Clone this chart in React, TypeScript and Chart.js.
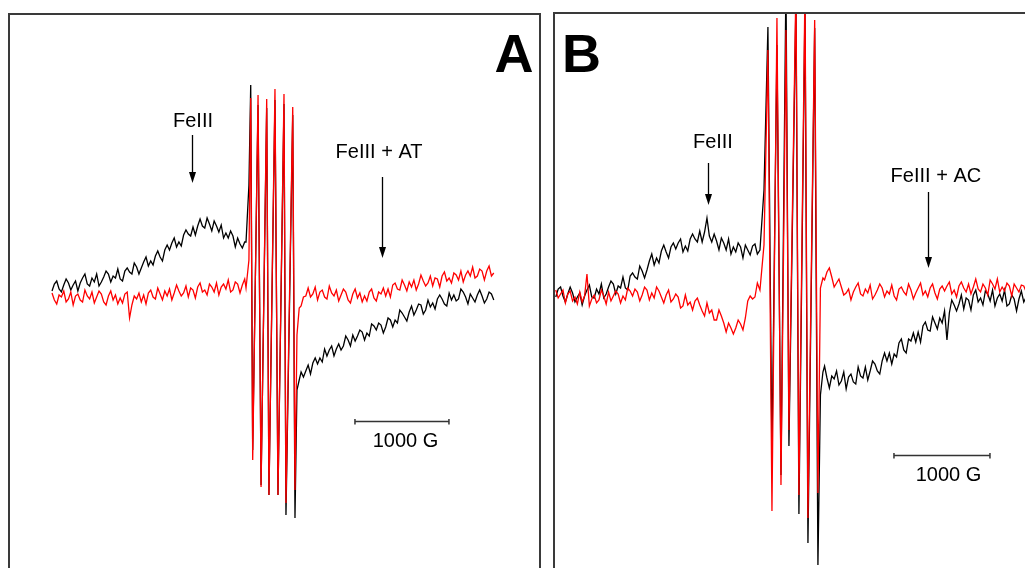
import React, { useEffect, useRef } from "react";
import { Chart, registerables } from "chart.js";

Chart.register(...registerables);

// ---------- DATA (field in gauss, intensity in arbitrary units) ----------
const FIELD_STEP = 25;

// Panel A (FeIII vs FeIII + AT)
const A_LEFT_START = 1000;
const A_RIGHT_START = 3650;
const aBlackLeft = [9, 16, 19, 11, 8, 15, 21, 17, 10, 15, 19, 9, 17, 22, 26, 16, 14, 22, 18, 26, 14, 18, 23, 29, 26, 18, 24, 22, 31, 21, 19, 29, 32, 28, 26, 37, 33, 26, 32, 38, 43, 34, 39, 35, 44, 49, 43, 39, 50, 55, 50, 57, 62, 53, 58, 54, 65, 70, 66, 64, 73, 65, 74, 81, 74, 72, 82, 76, 69, 79, 74, 68, 75, 62, 67, 62, 69, 64, 53, 62, 56, 52, 58];
const aRedLeft = [7, 0, -4, 5, 3, 9, -2, 1, 8, -5, 4, 6, 0, -2, 10, 4, 1, 8, -3, 3, 9, 6, -2, -5, 4, 9, 0, 5, -4, 2, -3, 6, 8, -18, -5, 4, 1, 7, -2, 5, -4, 7, 10, 3, 1, 12, 6, 0, 9, 4, 11, 0, 7, 15, 9, 4, 7, 14, 3, 12, 10, 2, 13, 17, 8, 10, 5, 16, 13, 8, 17, 5, 13, 16, 11, 20, 8, 10, 18, 16, 7, 15, 21];
const aLineField = [3064, 3095, 3114, 3135, 3192, 3224, 3284, 3308, 3372, 3404, 3468, 3489, 3561, 3585, 3606, 3630];
const aBlackLines = [58, 115, 215, -150, 195, -185, 192, -195, 200, -195, 196, -215, 185, -218, -90, -80];
const aRedLines = [12, 40, 202, -160, 205, -187, 201, -195, 211, -195, 206, -203, 193, -190, -35, -8];
const aBlackRight = [-72, -77, -71, -65, -74, -63, -58, -64, -58, -62, -49, -56, -50, -46, -56, -49, -44, -50, -46, -36, -40, -46, -35, -41, -36, -30, -32, -40, -33, -36, -24, -26, -30, -23, -25, -33, -27, -18, -20, -27, -20, -23, -10, -13, -17, -21, -12, -6, -15, -10, -4, -5, -14, -10, 0, -7, -3, -9, 1, 5, 1, -4, -6, 7, 0, 5, -1, 1, 11, 8, 3, -4, 6, 2, -2, 5, 10, 4, -3, 1, 8, 6, 0];
const aRedRight = [-6, 3, 4, 12, 3, 6, 13, 0, 8, 10, 3, 1, 14, 7, 4, 10, -1, 5, 11, 8, 0, -3, 6, 11, 2, 7, -2, 4, -1, 8, 11, 2, -1, 8, 6, 12, 4, 11, 3, 15, 17, 11, 10, 20, 15, 9, 18, 13, 20, 10, 16, 25, 19, 14, 17, 24, 14, 22, 21, 13, 24, 28, 19, 22, 17, 27, 25, 20, 29, 18, 25, 29, 24, 33, 22, 24, 31, 29, 20, 29, 34, 24, 27];

// Panel B (FeIII vs FeIII + AC)
const B_LEFT_START = 900;
const B_RIGHT_START = 3700;
const bBlackLeft = [3, 11, 13, 4, -2, 6, 13, 7, -2, 3, 7, -5, 4, 10, 15, 3, 2, 11, 6, 16, 2, 6, 13, 19, 16, 6, 14, 12, 23, 12, 10, 24, 27, 23, 21, 34, 29, 22, 30, 39, 46, 35, 42, 37, 49, 55, 48, 42, 53, 57, 51, 57, 61, 48, 54, 49, 61, 66, 61, 58, 69, 58, 68, 82, 64, 58, 66, 59, 50, 62, 57, 50, 61, 46, 53, 48, 57, 53, 42, 55, 50, 45, 54, 56, 46];
const bRedLeft = [10, 2, 6, 10, -3, 6, 9, -1, 3, -4, 8, -2, 4, 26, -6, 1, 5, -3, 0, 10, 4, -4, 8, -1, 4, 9, 6, -3, 4, 0, 12, 9, 4, 11, 8, -1, 5, 13, 10, 0, 7, 2, 13, 9, 3, -3, 5, 10, -2, 1, 6, 3, -8, -6, 5, -5, -2, -10, -1, 2, -5, -11, -16, -3, -13, -10, -20, -20, -10, -16, -23, -32, -23, -28, -34, -28, -20, -24, -30, -18, -1, 4, 1, 3, 17];
const bLineField = [3027, 3069, 3110, 3152, 3204, 3246, 3298, 3329, 3402, 3433, 3496, 3527, 3597, 3631, 3657, 3683];
const bBlackLines = [50, 110, 273, -155, 255, -175, 320, -146, 300, -214, 295, -243, 272, -265, -95, -72];
const bRedLines = [10, 55, 250, -211, 282, -185, 270, -130, 315, -195, 312, -218, 280, -193, 12, 22];
const bBlackRight = [-66, -78, -88, -76, -79, -71, -85, -81, -72, -89, -77, -74, -82, -84, -67, -76, -78, -67, -80, -71, -61, -64, -71, -74, -61, -53, -61, -53, -64, -54, -57, -43, -39, -50, -53, -39, -41, -33, -42, -32, -42, -26, -22, -30, -31, -17, -23, -29, -18, -23, -11, -40, -13, 0, -5, -11, -4, 5, -9, 2, 0, -10, 5, 10, -2, 2, -5, 9, 6, -1, 10, -6, 2, 6, -1, 10, -6, -4, 5, 1, -11, 1, 9, -2, 3];
const bRedRight = [20, 28, 32, 23, 13, 17, 21, 13, 5, 7, 11, 0, 8, 13, 17, 6, 4, 11, 7, 15, 1, 5, 10, 16, 12, 3, 9, 6, 15, 4, 0, 11, 13, 8, 5, 16, 10, 1, 7, 12, 17, 5, 9, 3, 12, 16, 7, 1, 11, 14, 9, 14, 18, 6, 10, 3, 14, 18, 12, 8, 16, 6, 13, 21, 11, 8, 16, 12, 5, 20, 16, 11, 21, 8, 13, 9, 17, 14, 4, 16, 12, 8, 15, 14, 8];

const scaleBarLabel = "1000 G";
const scaleBarLength = 1000;

// ---------- helpers ----------
type Pt = { x: number; y: number };
function grid(start: number, vals: number[]): Pt[] {
  return vals.map((v, i) => ({ x: start + i * FIELD_STEP, y: v }));
}
function pairs(fields: number[], vals: number[]): Pt[] {
  return fields.map((f, i) => ({ x: f, y: vals[i] }));
}
function series(lStart: number, left: number[], lf: number[], lines: number[], rStart: number, right: number[]): Pt[] {
  return [...grid(lStart, left), ...pairs(lf, lines), ...grid(rStart, right)];
}

const eprPlugin = {
  id: "eprAnnot",
  afterDatasetsDraw(chart: any, _args: any, opts: any) {
    const { ctx } = chart;
    const xs = chart.scales.x;
    const ys = chart.scales.y;
    ctx.save();
    ctx.fillStyle = "#000";
    ctx.strokeStyle = "#000";
    for (const t of opts.texts || []) {
      ctx.font = t.font;
      ctx.textAlign = "center";
      ctx.textBaseline = "alphabetic";
      ctx.fillText(t.text, xs.getPixelForValue(t.x), ys.getPixelForValue(t.y));
    }
    for (const a of opts.arrows || []) {
      const x = Math.round(xs.getPixelForValue(a.x)) + 0.5;
      const y1 = ys.getPixelForValue(a.from);
      const y2 = ys.getPixelForValue(a.to);
      ctx.lineWidth = 1.3;
      ctx.beginPath();
      ctx.moveTo(x, y1);
      ctx.lineTo(x, y2 - 8);
      ctx.stroke();
      ctx.beginPath();
      ctx.moveTo(x - 3.5, y2 - 11);
      ctx.lineTo(x + 3.5, y2 - 11);
      ctx.lineTo(x, y2);
      ctx.closePath();
      ctx.fill();
    }
    const sb = opts.scaleBar;
    if (sb) {
      const x1 = xs.getPixelForValue(sb.x);
      const x2 = xs.getPixelForValue(sb.x + scaleBarLength);
      const y = Math.round(ys.getPixelForValue(sb.y)) + 0.5;
      ctx.strokeStyle = "#333";
      ctx.lineWidth = 1.5;
      ctx.beginPath();
      ctx.moveTo(x1, y);
      ctx.lineTo(x2, y);
      ctx.moveTo(x1, y - 2.5);
      ctx.lineTo(x1, y + 3);
      ctx.moveTo(x2, y - 2.5);
      ctx.lineTo(x2, y + 3);
      ctx.stroke();
      ctx.fillStyle = "#000";
      ctx.font = sb.font;
      ctx.textAlign = "center";
      ctx.textBaseline = "alphabetic";
      ctx.fillText(scaleBarLabel, xs.getPixelForValue(sb.lx), ys.getPixelForValue(sb.ly));
    }
    ctx.restore();
  },
};

const LABEL_FONT = '20px "Liberation Sans", Arial, sans-serif';
const PANEL_FONT = 'bold 54px "Liberation Sans", Arial, sans-serif';

const panelA = {
  red: series(A_LEFT_START, aRedLeft, aLineField, aRedLines, A_RIGHT_START, aRedRight),
  black: series(A_LEFT_START, aBlackLeft, aLineField, aBlackLines, A_RIGHT_START, aBlackRight),
  xMin: 553,
  xMax: 6181,
  yMin: -268,
  yMax: 285,
  annot: {
    texts: [
      { text: "FeIII", x: 2500, y: 173, font: LABEL_FONT },
      { text: "FeIII + AT", x: 4479, y: 142, font: LABEL_FONT },
      { text: "A", x: 5915, y: 228, font: PANEL_FONT },
    ],
    arrows: [
      { x: 2489, from: 165, to: 117 },
      { x: 4510, from: 123, to: 42 },
    ],
    scaleBar: { x: 4223, y: -121, lx: 4761, ly: -147, font: LABEL_FONT },
  },
};

const panelB = {
  red: series(B_LEFT_START, bRedLeft, bLineField, bRedLines, B_RIGHT_START, bRedRight),
  black: series(B_LEFT_START, bBlackLeft, bLineField, bBlackLines, B_RIGHT_START, bBlackRight),
  xMin: 892,
  xMax: 5788,
  yMin: -268,
  yMax: 286,
  annot: {
    texts: [
      { text: "FeIII", x: 2537, y: 152, font: LABEL_FONT },
      { text: "FeIII + AC", x: 4860, y: 118, font: LABEL_FONT },
      { text: "B", x: 1167, y: 228, font: PANEL_FONT },
    ],
    arrows: [
      { x: 2485, from: 137, to: 95 },
      { x: 4777, from: 108, to: 32 },
    ],
    scaleBar: { x: 4423, y: -155, lx: 4991, ly: -181, font: LABEL_FONT },
  },
};

function Panel({ cfg, width, height }: { cfg: any; width: number; height: number }) {
  const ref = useRef<HTMLCanvasElement | null>(null);
  useEffect(() => {
    if (!ref.current) return;
    const chart = new Chart(ref.current, {
      type: "line",
      data: {
        datasets: [
          { label: "red", data: cfg.red, borderColor: "#ff0000", borderWidth: 1.3, pointRadius: 0, tension: 0, fill: false },
          { label: "black", data: cfg.black, borderColor: "#000000", borderWidth: 1.3, pointRadius: 0, tension: 0, fill: false },
        ],
      },
      options: {
        animation: false,
        responsive: false,
        maintainAspectRatio: false,
        devicePixelRatio: 1,
        layout: { padding: 0 },
        events: [],
        scales: {
          x: { type: "linear", min: cfg.xMin, max: cfg.xMax, display: false },
          y: { type: "linear", min: cfg.yMin, max: cfg.yMax, display: false },
        },
        plugins: {
          legend: { display: false },
          tooltip: { enabled: false },
          eprAnnot: cfg.annot,
        } as any,
      },
      plugins: [eprPlugin],
    });
    return () => chart.destroy();
  }, [cfg]);
  return <canvas ref={ref} width={width} height={height} style={{ display: "block", width, height }} />;
}

export default function App() {
  const border = "2px solid #3a3a3a";
  return (
    <div style={{ position: "fixed", left: 0, top: 0, width: 1025, height: 568, overflow: "hidden", background: "#fff" }}>
      <div style={{ position: "absolute", left: 8, top: 13, width: 529, height: 570, borderTop: border, borderLeft: border, borderRight: border }}>
        <Panel cfg={panelA} width={529} height={553} />
      </div>
      <div style={{ position: "absolute", left: 553, top: 12, width: 480, height: 570, borderTop: border, borderLeft: border, borderRight: border }}>
        <Panel cfg={panelB} width={470} height={554} />
      </div>
    </div>
  );
}
